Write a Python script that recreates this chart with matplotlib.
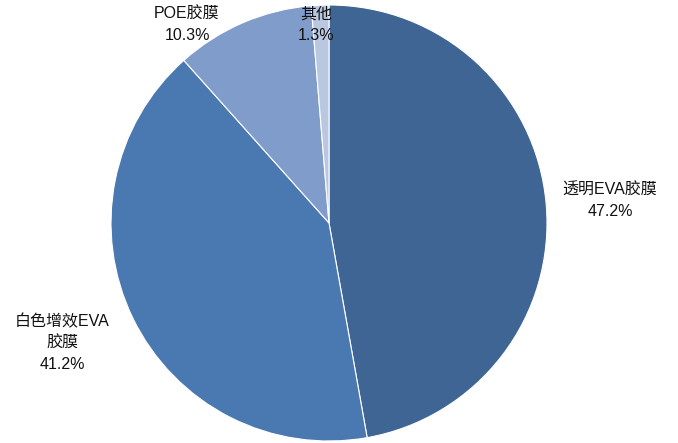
import matplotlib
matplotlib.use("Agg")
import matplotlib.pyplot as plt

# Market share of PV encapsulation films
categories = ["透明EVA胶膜", "白色增效EVA\n胶膜", "POE胶膜", "其他"]
shares = [47.2, 41.2, 10.3, 1.3]
colors = ["#3F6595", "#4A78B0", "#7F9CCA", "#B9C7E1"]

W, H = 678, 443
fig = plt.figure(figsize=(W / 100, H / 100), dpi=100)
ax = fig.add_axes([0, 0, 1, 1])

ax.pie(shares, colors=colors, startangle=90, counterclock=False,
       center=(329, H - 223), radius=218,
       wedgeprops=dict(edgecolor="white", linewidth=0.8))

# pie() resets the view, so fix pixel-like limits afterwards
ax.set_xlim(0, W)
ax.set_ylim(0, H)
ax.set_aspect("equal")
ax.axis("off")

fam = ["Liberation Sans", "Noto Sans CJK SC"]
label_pos = [(610, 201), (62, 343), (187, 25), (316, 25)]
for name, val, (x, y) in zip(categories, shares, label_pos):
    ax.text(x, H - y, f"{name}\n{val:.1f}%", ha="center", va="center",
            fontsize=11.5, family=fam, color="#111111", linespacing=1.5)

fig.savefig("out.png", dpi=100)
